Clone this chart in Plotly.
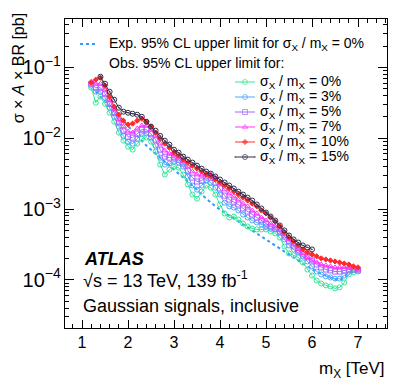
import plotly.graph_objects as go

# resonance mass points [TeV]
mass = [1.2, 1.3, 1.4, 1.5, 1.6, 1.7, 1.8, 1.9,
        2.0, 2.1, 2.2, 2.3, 2.4, 2.5, 2.6, 2.7, 2.8, 2.9,
        3.0, 3.1, 3.2, 3.3, 3.4, 3.5, 3.6, 3.7, 3.8, 3.9,
        4.0, 4.1, 4.2, 4.3, 4.4, 4.5, 4.6, 4.7, 4.8, 4.9,
        5.0, 5.1, 5.2, 5.3, 5.4, 5.5, 5.6, 5.7, 5.8, 5.9,
        6.0, 6.1, 6.2, 6.3, 6.4, 6.5, 6.6, 6.7, 6.8, 6.9, 7.0]
mass_exp = mass[1:]
mass_w15 = mass[2:49]  # 1.4 .. 6.0

# expected limit, sigma/m = 0% [pb]
exp_w0 = [0.0454, 0.0386, 0.0328, 0.0279, 0.0237, 0.0201, 0.0171,
          0.0146, 0.0124, 0.0105, 0.00895, 0.00786, 0.00690, 0.00606, 0.00532, 0.00468, 0.00410,
          0.00361, 0.00317, 0.00278, 0.00245, 0.00215, 0.00188, 0.00160, 0.00140, 0.00123, 0.00109,
          0.000985, 0.000893, 0.000810, 0.000735, 0.000667, 0.000605, 0.000549, 0.000499, 0.000452, 0.000409,
          0.000372, 0.000337, 0.000306, 0.000277, 0.000252, 0.000229, 0.000208, 0.000188, 0.000170, 0.000155,
          0.000140, 0.000131, 0.000123, 0.000115, 0.000108, 0.000101, 0.0000978, 0.000108, 0.000123, 0.000131,
          0.000136]

# observed limits [pb]
obs_w0 = [0.0517, 0.0317, 0.0386, 0.0307, 0.0229, 0.0171, 0.0120, 0.00924,
          0.00761, 0.00690, 0.00838, 0.00983, 0.0102, 0.00895, 0.00647, 0.00424, 0.00307, 0.00361,
          0.00397, 0.00385, 0.00307, 0.00222, 0.00160, 0.00140, 0.00176, 0.00215, 0.00200, 0.00160,
          0.00116, 0.000865, 0.000759, 0.000784, 0.000712, 0.000625, 0.000567, 0.000531, 0.000515, 0.000515,
          0.000515, 0.000483, 0.000452, 0.000396, 0.000296, 0.000236, 0.000222, 0.000208, 0.000176, 0.000140,
          0.000115, 0.0000978, 0.0000887, 0.0000834, 0.0000808, 0.0000757, 0.0000782, 0.0000916, 0.000119, 0.000127,
          0.000131]
obs_w3 = [0.0552, 0.0454, 0.0454, 0.0374, 0.0270, 0.0201, 0.0146, 0.0108,
          0.00895, 0.00838, 0.00983, 0.0116, 0.0116, 0.0102, 0.00786, 0.00532, 0.00424, 0.00438,
          0.00468, 0.00453, 0.00397, 0.00288, 0.00215, 0.00188, 0.00215, 0.00255, 0.00237, 0.00200,
          0.00160, 0.00123, 0.00109, 0.00105, 0.000953, 0.000837, 0.000759, 0.000689, 0.000646, 0.000605,
          0.000567, 0.000531, 0.000515, 0.000467, 0.000372, 0.000306, 0.000269, 0.000244, 0.000215, 0.000182,
          0.000155, 0.000131, 0.000119, 0.000112, 0.000108, 0.000104, 0.000104, 0.000115, 0.000131, 0.000140,
          0.000140]
obs_w5 = [0.0589, 0.0517, 0.0517, 0.0426, 0.0307, 0.0229, 0.0166, 0.0128,
          0.0105, 0.0102, 0.0116, 0.0132, 0.0132, 0.0116, 0.00955, 0.00690, 0.00550, 0.00532,
          0.00532, 0.00499, 0.00438, 0.00349, 0.00278, 0.00245, 0.00253, 0.00288, 0.00278, 0.00237,
          0.00195, 0.00155, 0.00136, 0.00127, 0.00116, 0.00102, 0.000923, 0.000837, 0.000759, 0.000689,
          0.000625, 0.000567, 0.000531, 0.000483, 0.000409, 0.000349, 0.000296, 0.000260, 0.000229, 0.000208,
          0.000188, 0.000165, 0.000150, 0.000140, 0.000136, 0.000131, 0.000131, 0.000136, 0.000140, 0.000140,
          0.000136]
obs_w7 = [0.0629, 0.0589, 0.0589, 0.0485, 0.0350, 0.0253, 0.0183, 0.0146,
          0.0124, 0.0120, 0.0137, 0.0151, 0.0151, 0.0132, 0.0108, 0.00838, 0.00668, 0.00606,
          0.00568, 0.00532, 0.00468, 0.00397, 0.00338, 0.00307, 0.00297, 0.00317, 0.00307, 0.00278,
          0.00229, 0.00188, 0.00165, 0.00150, 0.00136, 0.00119, 0.00109, 0.000953, 0.000865, 0.000759,
          0.000689, 0.000625, 0.000567, 0.000499, 0.000437, 0.000372, 0.000316, 0.000269, 0.000236, 0.000208,
          0.000188, 0.000176, 0.000165, 0.000160, 0.000155, 0.000150, 0.000150, 0.000150, 0.000150, 0.000145,
          0.000140]
obs_w10 = [0.0609, 0.0671, 0.0716, 0.0552, 0.0386, 0.0279, 0.0215, 0.0177,
           0.0156, 0.0161, 0.0177, 0.0189, 0.0171, 0.0146, 0.0120, 0.00983, 0.00838, 0.00736,
           0.00626, 0.00568, 0.00499, 0.00453, 0.00410, 0.00372, 0.00338, 0.00307, 0.00288, 0.00261,
           0.00237, 0.00215, 0.00195, 0.00176, 0.00160, 0.00145, 0.00132, 0.00119, 0.00109, 0.000953,
           0.000865, 0.000759, 0.000667, 0.000567, 0.000467, 0.000396, 0.000349, 0.000306, 0.000269, 0.000244,
           0.000229, 0.000215, 0.000201, 0.000194, 0.000188, 0.000182, 0.000176, 0.000170, 0.000165, 0.000155,
           0.000150]
obs_w15 = [0.0739, 0.0589, 0.0454, 0.0350, 0.0270, 0.0237,
           0.0229, 0.0222, 0.0215, 0.0201, 0.0171, 0.0146, 0.0128, 0.0108, 0.00924, 0.00812,
           0.00690, 0.00626, 0.00550, 0.00499, 0.00453, 0.00410, 0.00372, 0.00338, 0.00317, 0.00288,
           0.00261, 0.00237, 0.00215, 0.00195, 0.00176, 0.00160, 0.00145, 0.00132, 0.00116, 0.00102,
           0.000893, 0.000784, 0.000689, 0.000586, 0.000499, 0.000423, 0.000372, 0.000337, 0.000306, 0.000287,
           0.000269]

widths = ["0%", "3%", "5%", "7%", "10%", "15%"]

FONT = "Liberation Sans, Arial, Helvetica, sans-serif"
EXP_COLOR = "#3399ff"

# page body adds an 8px margin, so the figure is made 8px smaller
W, H = 399, 383
ML, MR, MT, MB = 57, 20, 11, 63
PW, PH = W - ML - MR, H - MT - MB


def px_x(px):  # pixel in the reference -> paper x
    return (px - 65) / PW


def px_y(py):  # pixel in the reference -> paper y
    return (328 - py) / PH


fig = go.Figure()

fig.add_trace(go.Scatter(
    x=mass_exp, y=exp_w0, mode="lines",
    line=dict(color=EXP_COLOR, width=2, dash="dot"),
    showlegend=False,
))

# (x, y, colour, marker symbol, marker size)
obs = [
    (mass, obs_w0, "#33e699", "circle-open", 5),
    (mass, obs_w3, "#4da6ff", "circle-open", 5),
    (mass, obs_w5, "#a366ff", "square-open", 5),
    (mass, obs_w7, "#ff33ff", "triangle-up-open", 5),
    (mass, obs_w10, "#ff2a2a", "diamond", 4),
    (mass_w15, obs_w15, "#2e2e4d", "circle-open-dot", 5),
]
for (xs, ys, col, sym, sz), w in zip(obs, widths):
    fig.add_trace(go.Scatter(
        x=xs, y=ys, mode="lines+markers",
        line=dict(color=col, width=1),
        marker=dict(symbol=sym, size=sz, color=col, line=dict(width=1, color=col)),
        showlegend=False,
    ))

# hand-made legend on an overlay axis (row spacing as in the reference)
ann = []
fig.add_trace(go.Scatter(
    x=[px_x(80), px_x(96)], y=[px_y(44)] * 2, mode="lines",
    line=dict(color=EXP_COLOR, width=2, dash="dot"),
    xaxis="x2", yaxis="y2", showlegend=False, hoverinfo="skip",
))
ann.append(dict(text="Exp. 95% CL upper limit for σ<sub>X</sub> / m<sub>X</sub> = 0%",
                x=px_x(107), y=px_y(44)))
ann.append(dict(text="Obs. 95% CL upper limit for:", x=px_x(107), y=px_y(63)))
for i, ((xs, ys, col, sym, sz), w) in enumerate(zip(obs, widths)):
    ry = px_y(82 + 15 * i)
    fig.add_trace(go.Scatter(
        x=[px_x(235), px_x(245), px_x(255)], y=[ry] * 3, mode="lines+markers",
        line=dict(color=col, width=1),
        marker=dict(symbol=sym, size=[0, sz, 0], color=col, line=dict(width=1, color=col)),
        xaxis="x2", yaxis="y2", showlegend=False, hoverinfo="skip",
    ))
    ann.append(dict(text=f"σ<sub>X</sub> / m<sub>X</sub> = {w}", x=px_x(258), y=ry))
for a in ann:
    a.update(xref="paper", yref="paper", xanchor="left", yanchor="middle",
             showarrow=False, font=dict(family=FONT, size=14))

axis_common = dict(
    showline=True, linecolor="black", linewidth=1, mirror="allticks",
    ticks="inside", tickcolor="black", showgrid=False, zeroline=False,
    tickfont=dict(family=FONT, size=16, color="black"),
)

fig.update_layout(
    xaxis=dict(range=[0.63, 7.63], dtick=1, tick0=0, ticklen=8,
               minor=dict(ticks="inside", dtick=0.2, ticklen=4, tickcolor="black"),
               **axis_common),
    yaxis=dict(type="log", range=[-4.68, -0.316], dtick=1, ticklen=9,
               exponentformat="power", showexponent="all",
               minor=dict(ticks="inside", dtick="D1", ticklen=4, tickcolor="black"),
               **axis_common),
    xaxis2=dict(overlaying="x", range=[0, 1], visible=False),
    yaxis2=dict(overlaying="y", range=[0, 1], visible=False),
)

ann += [
    dict(text="σ × <i>A</i> × BR [pb]", x=px_x(18), y=1.025, xref="paper", yref="paper",
         textangle=-90, xanchor="center", yanchor="top", showarrow=False,
         font=dict(family=FONT, size=16)),
    dict(text="m<sub>X</sub> [TeV]", x=1.0, y=-0.135, xref="paper", yref="paper",
         xanchor="right", yanchor="middle", showarrow=False,
         font=dict(family=FONT, size=17)),
    dict(text="<b><i>ATLAS</i></b>", x=px_x(82), y=px_y(259), xref="paper", yref="paper",
         xanchor="left", yanchor="middle", showarrow=False,
         font=dict(family=FONT, size=18)),
    dict(text="√s = 13 TeV, 139 fb<sup>-1</sup>", x=px_x(81), y=px_y(279), xref="paper", yref="paper",
         xanchor="left", yanchor="middle", showarrow=False,
         font=dict(family=FONT, size=18)),
    dict(text="Gaussian signals, inclusive", x=px_x(81), y=px_y(306), xref="paper", yref="paper",
         xanchor="left", yanchor="middle", showarrow=False,
         font=dict(family=FONT, size=18)),
]

fig.update_layout(
    width=W, height=H,
    margin=dict(l=ML, r=MR, t=MT, b=MB),
    paper_bgcolor="white", plot_bgcolor="white",
    font=dict(family=FONT, size=14, color="black"),
    annotations=ann,
    showlegend=False,
)

fig.write_html("out.html")
